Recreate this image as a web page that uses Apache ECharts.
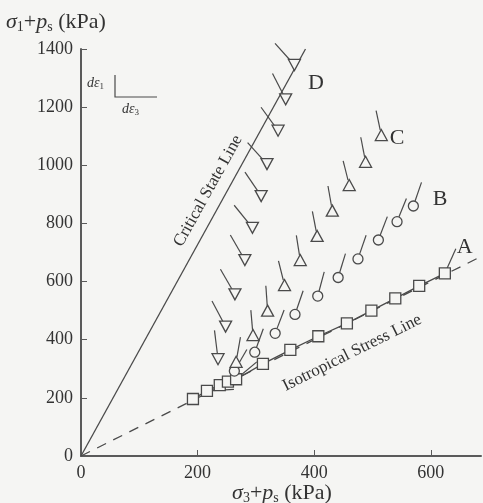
<!DOCTYPE html>
<html>
<head>
<meta charset="utf-8">
<script src="https://cdn.jsdelivr.net/npm/echarts@6/dist/echarts.min.js"></script>
<style>
  html, body { margin: 0; padding: 0; background: #f5f5f3; }
  #main { width: 483px; height: 503px; }
</style>
</head>
<body>
<div id="main"></div>
<script>
// stress paths, kPa (sigma3+ps, sigma1+ps), tail = strain increment direction in degrees
var pathAX = [192, 216, 238, 252, 266, 312, 359, 407, 456, 498, 539, 580, 624];
var pathAY = [196, 224, 244, 256, 264, 317, 365, 412, 456, 500, 542, 585, 628];
var pathATail = [null, 3, null, null, 40, null, null, null, null, null, null, null, 66];

var pathBX = [263, 298, 333, 367, 406, 441, 475, 510, 542, 570];
var pathBY = [292, 357, 422, 487, 550, 614, 678, 743, 806, 860];
var pathBTail = [60, 70, 69, 71, 75, 73, 71, 69, 68, 71];

var pathCX = [266, 295, 320, 349, 376, 405, 431, 460, 488, 515];
var pathCY = [324, 416, 500, 588, 674, 757, 844, 932, 1012, 1104];
var pathCTail = [80, 95, 94, 104, 99, 101, 100, 104, 101, 102];

var pathDX = [235, 248, 264, 281, 294, 309, 319, 338, 351, 366];
var pathDY = [333, 445, 556, 674, 785, 894, 1004, 1119, 1227, 1345];
var pathDTail = [97, 118, 120, 120, 129, 124, 132, 126, 117, 132];

var cslLine = [[0, 0], [385, 1400]];
var isoLine = [[0, 0], [680, 680]];

var xTicks = [0, 200, 400, 600];
var yTicks = [0, 200, 400, 600, 800, 1000, 1200, 1400];

// path letters placed in data space
var pathLabels = [
  { text: 'A', at: [658, 718] },
  { text: 'B', at: [616, 884] },
  { text: 'C', at: [542, 1092] },
  { text: 'D', at: [403, 1282] }
];

var ink = '#4a4a4a';
var bg = '#f5f5f3';
var serif = '"Liberation Serif", "DejaVu Serif", serif';

function pts(xs, ys) {
  return xs.map(function (x, i) { return [x, ys[i]]; });
}

function tails(xs, ys, angs, r, len) {
  var data = [];
  xs.forEach(function (x, i) {
    if (angs[i] != null) data.push([x, ys[i], angs[i]]);
  });
  return {
    type: 'custom',
    coordinateSystem: 'cartesian2d',
    data: data,
    encode: { x: 0, y: 1 },
    silent: true,
    z: 3,
    renderItem: function (params, api) {
      var p = api.coord([api.value(0), api.value(1)]);
      var a = api.value(2) * Math.PI / 180;
      var c = Math.cos(a), s = -Math.sin(a);
      return {
        type: 'line',
        shape: { x1: p[0] + c * r, y1: p[1] + s * r, x2: p[0] + c * (r + len), y2: p[1] + s * (r + len) },
        style: { stroke: ink, lineWidth: 1.2 }
      };
    }
  };
}

function markers(xs, ys, symbol, size, rotate) {
  return {
    type: 'scatter',
    data: pts(xs, ys),
    symbol: symbol,
    symbolSize: size,
    symbolRotate: rotate || 0,
    itemStyle: { color: bg, borderColor: ink, borderWidth: 1.3, opacity: 1 },
    z: 5,
    silent: true
  };
}

var chart = echarts.init(document.getElementById('main'));

chart.setOption({
  backgroundColor: bg,
  animation: false,
  grid: { left: 81, right: 2, top: 49, bottom: 47 },
  xAxis: {
    type: 'value',
    min: 0, max: 686, interval: 200,
    splitLine: { show: false },
    axisLine: { onZero: false, lineStyle: { color: '#5a5a5a', width: 2 } },
    axisTick: { inside: true, length: 6, customValues: xTicks, lineStyle: { color: '#5a5a5a' } },
    axisLabel: { customValues: xTicks, margin: 8, color: '#333', fontFamily: serif, fontSize: 18,
                 formatter: function (v) { return String(v); } }
  },
  yAxis: {
    type: 'value',
    min: 0, max: 1400, interval: 200,
    splitLine: { show: false },
    axisLine: { show: true, onZero: false, lineStyle: { color: '#5a5a5a', width: 2 } },
    axisTick: { show: true, inside: true, length: 6, customValues: yTicks, lineStyle: { color: '#5a5a5a' } },
    axisLabel: { customValues: yTicks, margin: 8, color: '#333', fontFamily: serif, fontSize: 18,
                 formatter: function (v) { return String(v); } }
  },
  series: [
    {
      type: 'line', data: cslLine, showSymbol: false, silent: true, z: 2,
      lineStyle: { color: ink, width: 1.3 }
    },
    {
      type: 'line', data: isoLine, showSymbol: false, silent: true, z: 2,
      lineStyle: { color: ink, width: 1.3, type: [10, 8] }
    },
    {
      type: 'line', data: pts(pathAX, pathAY), showSymbol: false, silent: true, z: 2,
      lineStyle: { color: ink, width: 1.3 }
    },
    tails(pathAX, pathAY, pathATail, 5, 22),
    tails(pathBX, pathBY, pathBTail, 5, 20),
    tails(pathCX, pathCY, pathCTail, 5, 20),
    tails(pathDX, pathDY, pathDTail, 5, 24),
    markers(pathAX, pathAY, 'rect', 11),
    markers(pathBX, pathBY, 'circle', 10),
    markers(pathCX, pathCY, 'triangle', [12, 11]),
    markers(pathDX, pathDY, 'triangle', [12, 11], 180)
  ]
});

// annotations
var sub = { fontSize: 14, fontFamily: serif, verticalAlign: 'bottom', lineHeight: 16, fill: '#333' };
var it = { fontSize: 22, fontFamily: serif, fontStyle: 'italic', lineHeight: 25, fill: '#333' };
var rm = { fontSize: 22, fontFamily: serif, lineHeight: 25, fill: '#333' };
var richTitle = { i: it, s: sub, r: rm };
var richSmall = {
  i: { fontSize: 14, fontFamily: serif, fontStyle: 'italic', lineHeight: 16, fill: '#333' },
  s: { fontSize: 9, fontFamily: serif, verticalAlign: 'bottom', lineHeight: 10, fill: '#333' }
};

var graphics = [
  {
    type: 'text', left: 6, top: 11,
    style: { text: '{i|σ}{s|1}{r|+}{i|p}{s|s}{r| (kPa)}', rich: richTitle }
  },
  {
    type: 'text', x: 282, y: 493,
    style: { text: '{i|σ}{s|3}{r|+}{i|p}{s|s}{r| (kPa)}', rich: richTitle, align: 'center', verticalAlign: 'middle' }
  },
  { type: 'text', x: 87, y: 83, style: { text: '{i|dε}{s|1}', rich: richSmall, verticalAlign: 'middle' } },
  { type: 'text', x: 122, y: 109, style: { text: '{i|dε}{s|3}', rich: richSmall, verticalAlign: 'middle' } },
  { type: 'polyline', shape: { points: [[115, 75], [115, 97], [157, 97]] }, style: { stroke: ink, lineWidth: 1.2, fill: null } }
];

pathLabels.forEach(function (l) {
  var p = chart.convertToPixel({ gridIndex: 0 }, l.at);
  graphics.push({
    type: 'text', x: p[0], y: p[1],
    style: { text: l.text, font: '22px ' + serif, fill: '#333', align: 'center', verticalAlign: 'middle' }
  });
});

var cslMid = chart.convertToPixel({ gridIndex: 0 }, [218, 912]);
graphics.push({
  type: 'text', x: cslMid[0], y: cslMid[1], rotation: 61 * Math.PI / 180,
  style: { text: 'Critical State Line', font: '17px ' + serif, fill: '#333', align: 'center', verticalAlign: 'middle' }
});
var isoMid = chart.convertToPixel({ gridIndex: 0 }, [465, 355]);
graphics.push({
  type: 'text', x: isoMid[0], y: isoMid[1], rotation: 26.5 * Math.PI / 180,
  style: { text: 'Isotropical Stress Line', font: '17px ' + serif, fill: '#333', align: 'center', verticalAlign: 'middle' }
});

chart.setOption({ graphic: graphics });
</script>
</body>
</html>
